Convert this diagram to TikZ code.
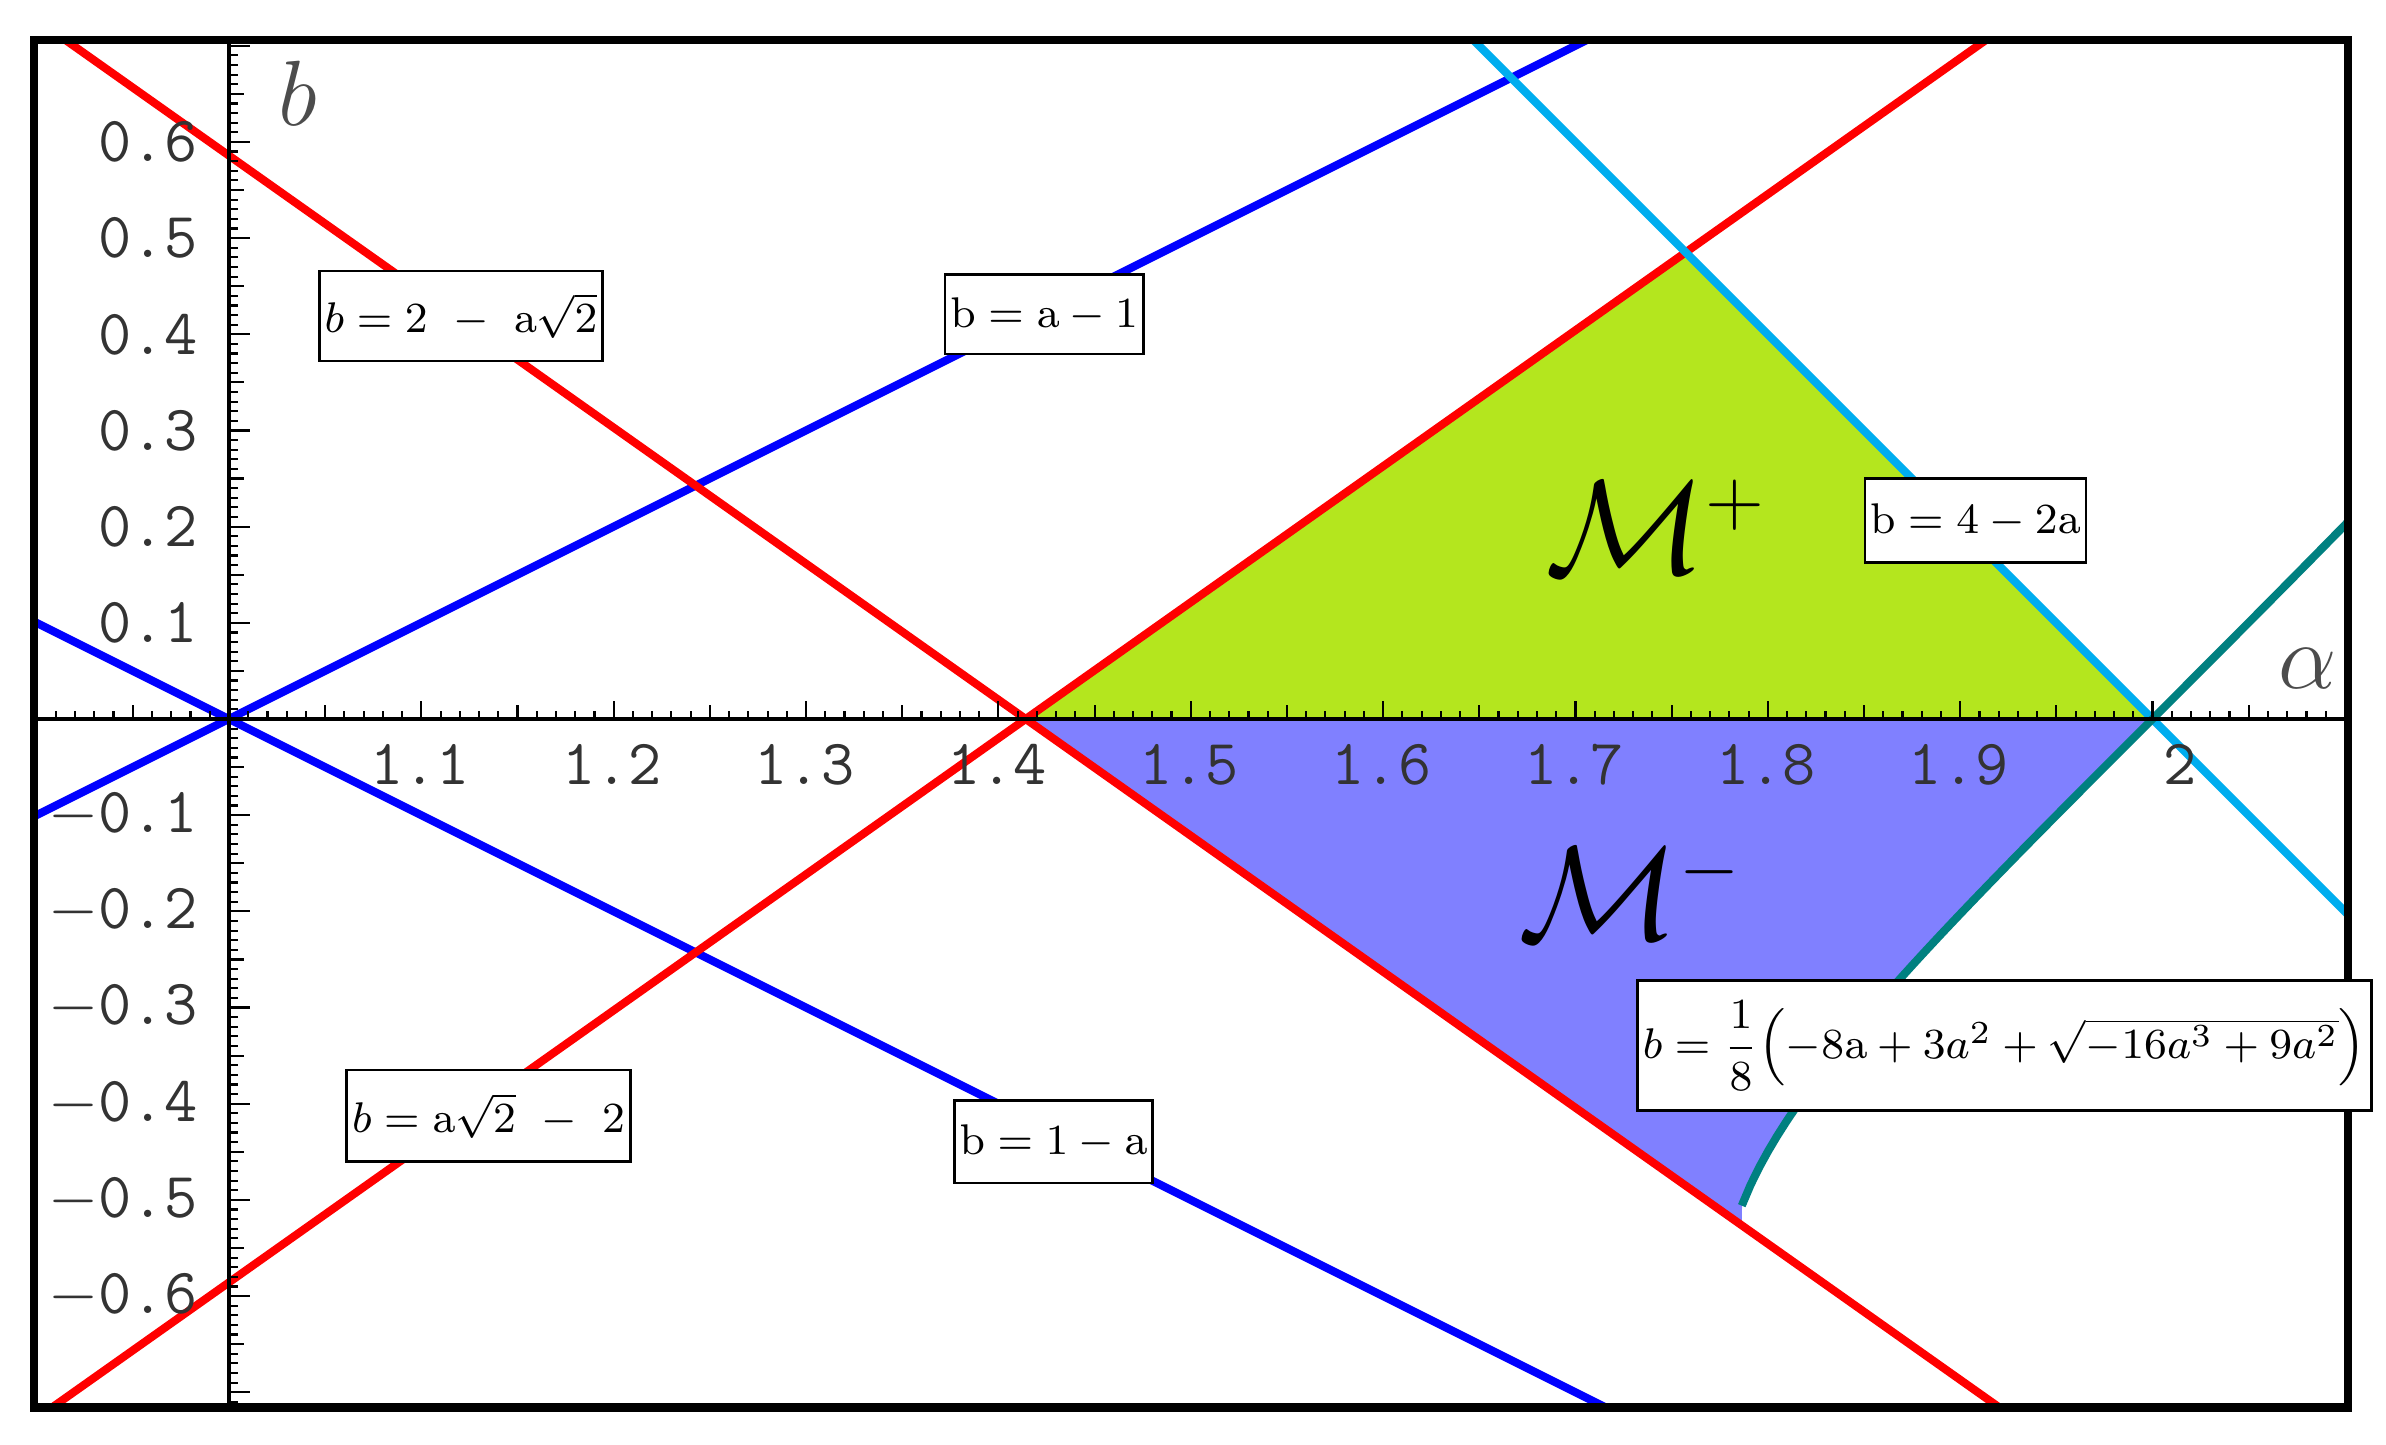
\documentclass[tikz,border=0pt]{standalone}
\usepackage{amsmath}
\begin{document}
\begin{tikzpicture}[
  curve/.style={line width=1.5pt},
  lab/.style={draw,fill=white,line width=0.5pt,inner sep=1pt,font=\fontsize{8}{10}\selectfont},
  tk/.style={font=\ttfamily\fontsize{12}{12}\selectfont,text=black!80}]
\useasboundingbox (0,0) rectangle (15.63,9.46);
\fill[white] (0,0) rectangle (15.63,9.46);
\begin{scope}
\clip (0.22,0.24) rectangle (15.38,9.2);
\begin{scope}[shift={(1.5,4.75)},xscale=12.6,yscale=6.3]
 \fill[fill={rgb,255:red,180;green,230;blue,30}] (1.41421-1,0) -- (2-1,0) -- (1.75736-1,0.48528) -- cycle;
 \fill[fill={rgb,255:red,128;green,128;blue,255}] (1.41421-1,0) -- (2-1,0)
   -- plot[domain=2:1.7865,samples=60,variable=\a] ({\a-1},{(-8*\a+3*\a*\a+sqrt(max(0,9*\a*\a*\a*\a-16*\a*\a*\a)))/8})
   -- (0.7865,{2-1.7865*1.41421}) -- cycle;
 \draw[curve,blue] (-0.2,-0.2) -- (1.2,1.2);
 \draw[curve,blue] (-0.2,0.2) -- (1.2,-1.2);
 \draw[curve,red] (-0.2,{2-0.8*1.41421}) -- (1.2,{2-2.2*1.41421});
 \draw[curve,red] (-0.2,{0.8*1.41421-2}) -- (1.2,{2.2*1.41421-2});
 \draw[curve,cyan] (0.5,1.0) -- (1.2,-0.4);
 \draw[curve,teal] plot[domain=1.7865:2.15,samples=80,variable=\a] ({\a-1},{(-8*\a+3*\a*\a+sqrt(max(0,9*\a*\a*\a*\a-16*\a*\a*\a)))/8});
\end{scope}
\end{scope}
\draw[line width=0.6pt] (0.22,4.75) -- (15.38,4.75);
\draw[line width=0.6pt] (1.5,0.24) -- (1.5,9.2);
\foreach \i in {-10,...,110} {
  \pgfmathsetmacro\xx{1.5+0.126*\i}
  \pgfmathsetmacro\ll{ifthenelse(mod(\i,10)==0,0.12,ifthenelse(mod(\i,5)==0,0.09,0.05))}
  \draw[line width=0.4pt] (\xx,4.75) -- (\xx,4.75+\ll);}
\foreach \i in {-71,...,70} {
  \pgfmathsetmacro\yy{4.75+0.063*\i}
  \pgfmathsetmacro\ll{ifthenelse(mod(\i,10)==0,0.14,ifthenelse(mod(\i,5)==0,0.10,0.06))}
  \draw[line width=0.4pt] (1.5,\yy) -- (1.5+\ll,\yy);}
\foreach \v/\t in {1/1.1,2/1.2,3/1.3,4/1.4,5/1.5,6/1.6,7/1.7,8/1.8,9/1.9}
  \node[tk] (xl\v) at (1.5+1.26*\v-0.01,4.45) {\t};
\node[tk] (xl10) at (14.28,4.45) {2};
\foreach \v in {1,...,6} {
  \node[tk,anchor=east] (yp\v) at (1.42,4.75+0.63*\v) {0.\v};
  \node[tk,anchor=east] (yn\v) at (1.42,4.75-0.63*\v) {$-$0.\v};}
\node[font=\fontsize{18}{18}\selectfont,text=black!70] (bl) at (1.95,8.85) {$b$};
\node[font=\fontsize{18}{18}\selectfont,text=black!70] (al) at (15.12,5.08) {$\alpha$};
\draw[line width=1.5pt] (0.22,0.24) rectangle (15.38,9.2);
\node[lab,minimum width=1.72cm,minimum height=0.59cm] (l1) at (3.02,7.39) {$b = 2\ -\ \mathrm{a}\sqrt{2}$};
\node[lab,minimum width=1.16cm,minimum height=0.52cm] (l2) at (6.84,7.40) {$\mathrm{b = a - 1}$};
\node[lab,minimum width=1.33cm,minimum height=0.55cm] (l3) at (12.94,6.05) {$\mathrm{b = 4 - 2a}$};
\node[lab,minimum width=3.9cm,minimum height=0.85cm] (l4) at (13.13,2.61) {$b=\dfrac{1}{8}\Bigl(-8\mathrm{a}+3a^2+\sqrt{-16a^3+9a^2}\Bigr)$};
\node[lab,minimum width=1.67cm,minimum height=0.6cm] (l5) at (3.20,2.15) {$b = \mathrm{a}\sqrt{2}\ -\ 2$};
\node[lab,minimum width=1.17cm,minimum height=0.54cm] (l6) at (6.90,1.98) {$\mathrm{b = 1 - a}$};
\node[font=\fontsize{28}{28}\selectfont] (mp) at (10.85,6.01) {$\mathcal{M}^{\scriptscriptstyle +}$};
\node[font=\fontsize{28}{28}\selectfont] (mm) at (10.68,3.61) {$\mathcal{M}^{\scriptscriptstyle -}$};
\end{tikzpicture}
\end{document}
